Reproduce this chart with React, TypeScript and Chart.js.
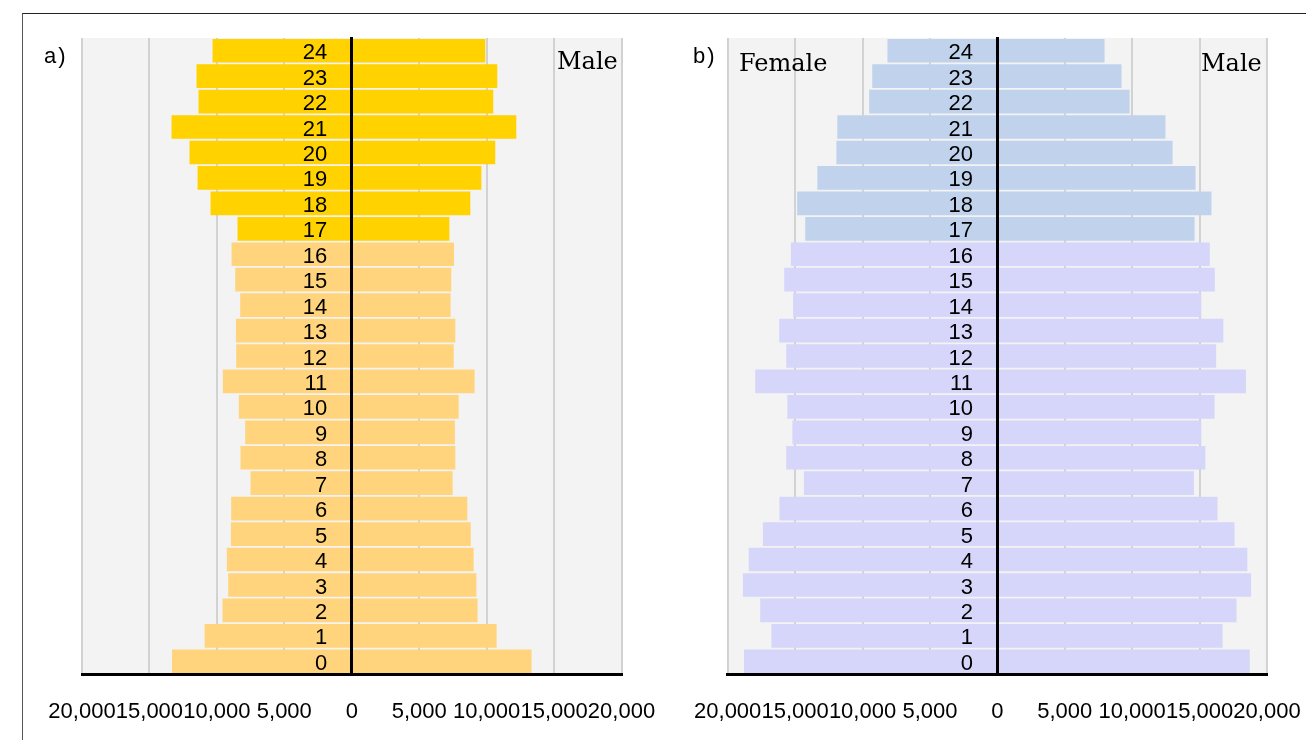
import React, { useEffect, useRef } from 'react';
import { Chart, registerables } from 'chart.js';

Chart.register(...registerables);

// ---- Data ----
const ages = ['0', '1', '2', '3', '4', '5', '6', '7', '8', '9', '10', '11', '12', '13', '14', '15', '16', '17', '18', '19', '20', '21', '22', '23', '24'];

const femaleA = [13330, 10910, 9580, 9160, 9260, 8960, 8940, 7510, 8250, 7900, 8370, 9560, 8570, 8590, 8270, 8640, 8910, 8470, 10470, 11430, 12030, 13360, 11360, 11510, 10320];
const maleA = [13330, 10740, 9330, 9240, 9040, 8820, 8570, 7480, 7680, 7650, 7930, 9110, 7560, 7680, 7330, 7380, 7580, 7240, 8790, 9610, 10640, 12200, 10490, 10790, 9900];

const femaleB = [18790, 16760, 17590, 18870, 18440, 17390, 16160, 14350, 15660, 15200, 15580, 17960, 15660, 16180, 15150, 15810, 15310, 14250, 14850, 13350, 11940, 11870, 9510, 9280, 8150];
const maleB = [18720, 16710, 17740, 18820, 18540, 17590, 16330, 14580, 15430, 15130, 16110, 18440, 16230, 16760, 15130, 16130, 15760, 14630, 15880, 14700, 13000, 12470, 9810, 9210, 7950];

const xTickValues = [-20000, -15000, -10000, -5000, 0, 5000, 10000, 15000, 20000];

const SANS = '"Liberation Sans", Arial, sans-serif';
const SERIF = '"DejaVu Serif", serif';

const bgPlugin = {
  id: 'plotBg',
  beforeDraw(chart: any) {
    const { ctx, chartArea } = chart;
    if (!chartArea) return;
    ctx.save();
    ctx.fillStyle = '#f3f3f3';
    ctx.fillRect(chartArea.left, chartArea.top, chartArea.right - chartArea.left, chartArea.bottom - chartArea.top);
    ctx.restore();
  },
};

type PanelProps = {
  female: number[];
  male: number[];
  topColor: string;
  bottomColor: string;
  left: number;
  padLeft: number;
  padRight: number;
};

function Panel({ female, male, topColor, bottomColor, left, padLeft, padRight }: PanelProps) {
  const ref = useRef<HTMLCanvasElement>(null);
  useEffect(() => {
    if (!ref.current) return;
    const colorFn = (ctx: any) => (ctx.dataIndex >= 17 ? topColor : bottomColor);
    const chart = new Chart(ref.current, {
      type: 'bar',
      data: {
        labels: ages,
        datasets: [
          {
            label: 'Female',
            data: female.map((v) => -v),
            backgroundColor: colorFn,
            borderWidth: 0,
            barPercentage: 0.93,
            categoryPercentage: 1,
          },
          {
            label: 'Male',
            data: male,
            backgroundColor: colorFn,
            borderWidth: 0,
            barPercentage: 0.93,
            categoryPercentage: 1,
          },
        ],
      },
      options: {
        indexAxis: 'y',
        animation: false,
        responsive: false,
        maintainAspectRatio: false,
        layout: { padding: { left: padLeft, right: padRight, top: 18, bottom: 14.6 } },
        plugins: { legend: { display: false }, tooltip: { enabled: false } },
        scales: {
          x: {
            type: 'linear',
            min: -20000,
            max: 20000,
            stacked: true,
            afterBuildTicks: (scale: any) => {
              scale.ticks = xTickValues.map((v) => ({ value: v }));
            },
            grid: { color: '#d2d2d2', lineWidth: 2, drawTicks: true, tickLength: 25, tickColor: 'rgba(0,0,0,0)' },
            border: { color: '#000', width: 3 },
            ticks: {
              padding: 0,
              color: '#000',
              autoSkip: false,
              maxRotation: 0,
              minRotation: 0,
              font: { family: SANS, size: 22 },
              callback: (v: any) => Math.abs(Number(v)).toLocaleString('en-US'),
            },
          },
          y: {
            type: 'category',
            reverse: true,
            stacked: true,
            position: { x: 0 } as any,
            grid: { display: true, drawOnChartArea: false, drawTicks: false },
            border: { color: '#000', width: 3, z: 1 },
            ticks: {
              z: 1,
              color: '#000',
              padding: 0,
              labelOffset: 2.5,
              autoSkip: false,
              font: { family: SANS, size: 22 },
              // trailing spaces keep the right-aligned age labels clear of the centre line
              callback: (_v: any, i: number) => ages[i] + '    ',
            },
          },
        },
      } as any,
      plugins: [bgPlugin],
    });
    return () => chart.destroy();
  }, []);
  return (
    <canvas
      ref={ref}
      width={620}
      height={720}
      style={{ position: 'absolute', left, top: 20, width: 620, height: 720 }}
    />
  );
}

const textBase: React.CSSProperties = { position: 'absolute', lineHeight: 1, whiteSpace: 'nowrap', color: '#000' };

export default function App() {
  return (
    <div style={{ position: 'absolute', left: 0, top: 0, width: 1306, height: 740, background: '#fff', overflow: 'hidden' }}>
      <div
        style={{
          position: 'absolute',
          left: 22,
          top: 13,
          width: 1300,
          height: 740,
          borderTop: '1px solid #222',
          borderLeft: '1px solid #555',
        }}
      />
      <Panel female={femaleA} male={maleA} topColor="#ffd200" bottomColor="#ffd47c" left={40} padLeft={42} padRight={38.5} />
      <Panel female={femaleB} male={maleB} topColor="#c1d3ec" bottomColor="#d6d6fa" left={686} padLeft={41.7} padRight={39} />
      <div style={{ ...textBase, left: 44, top: 45, fontFamily: SANS, fontSize: 22, letterSpacing: '2px' }}>a)</div>
      <div style={{ ...textBase, left: 557, top: 49, fontFamily: SERIF, fontSize: 24 }}>Male</div>
      <div style={{ ...textBase, left: 693, top: 45, fontFamily: SANS, fontSize: 22, letterSpacing: '2px' }}>b)</div>
      <div style={{ ...textBase, left: 739, top: 51, fontFamily: SERIF, fontSize: 24 }}>Female</div>
      <div style={{ ...textBase, left: 1201, top: 51, fontFamily: SERIF, fontSize: 24 }}>Male</div>
    </div>
  );
}
